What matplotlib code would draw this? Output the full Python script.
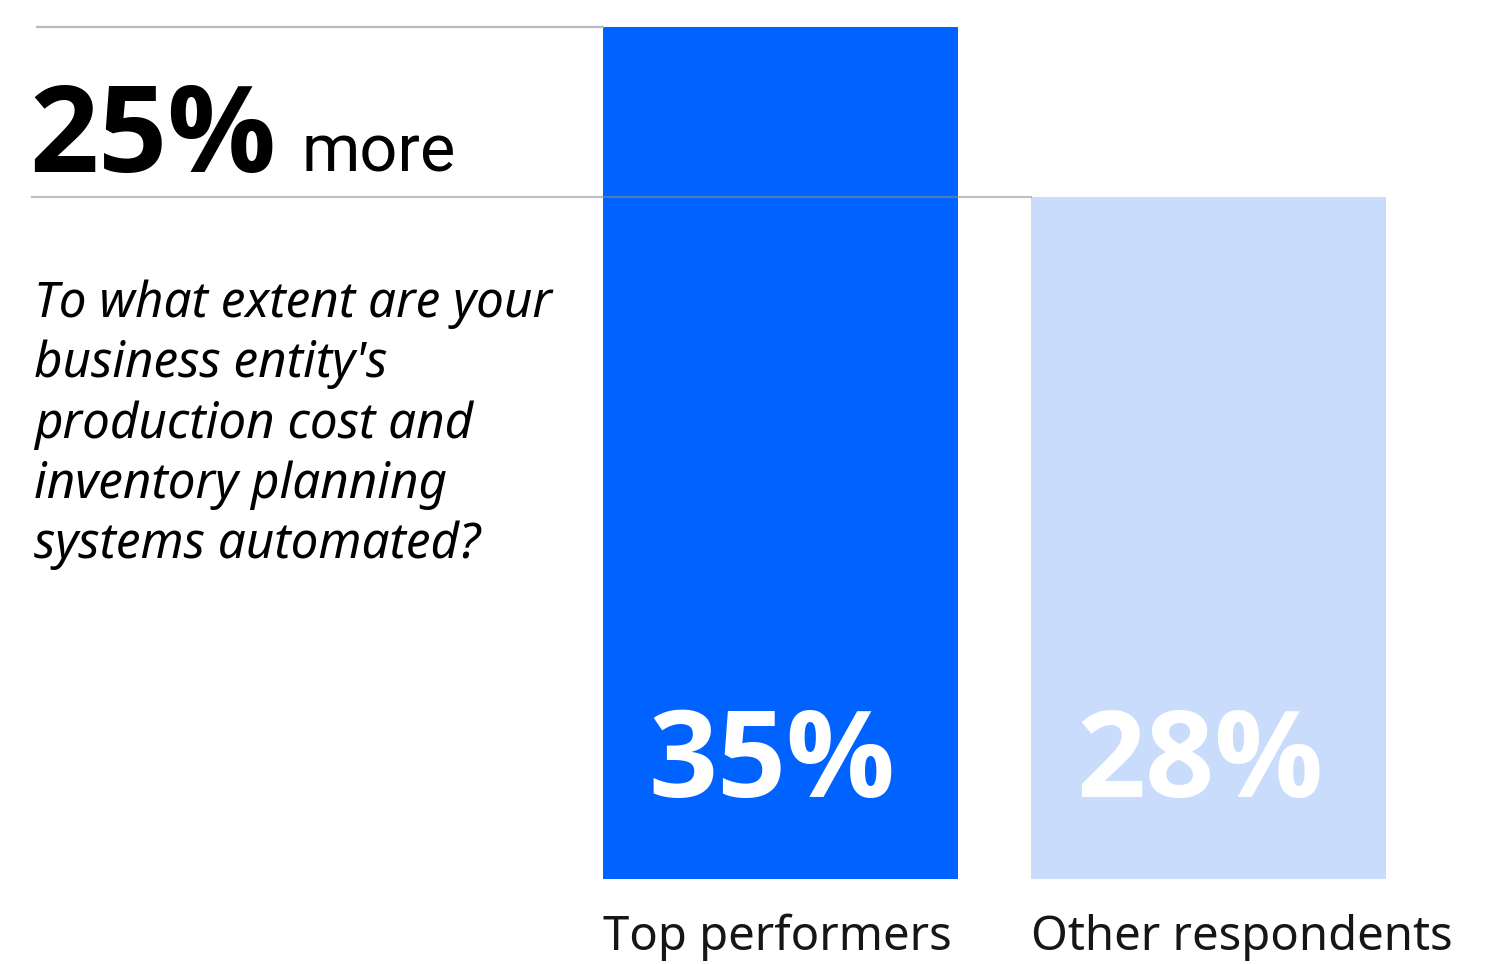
import numpy as np
import matplotlib
matplotlib.use('Agg')
import matplotlib.pyplot as plt

# data
groups = ['Top performers', 'Other respondents']
values = [35, 28]
bar_colors = ['#0062ff', '#c9dcfc']
headline_num = '25%'
headline_word = 'more'
question_lines = ['To what extent are your',
                  "business entity's",
                  'production cost and',
                  'inventory planning',
                  'systems automated?']

W, H = 1494, 964
FONT = 'Noto Sans'
FONT_BIG = 'Open Sans'

fig = plt.figure(figsize=(W / 100, H / 100), dpi=100)
fig.patch.set_facecolor('white')


def fx(x):
    return x / W


def fy(y):
    return 1 - y / H


# axes covers full width; bottom at 879 px, top (35) at 27 px
ax = fig.add_axes([0, fy(879), 1, (879 - 27) / H])
unit = 428.0  # px between bar centres
c0 = 780.5
ax.set_xlim(-c0 / unit, (W - c0) / unit)
ax.set_ylim(0, max(values))
ax.axis('off')

width = 355 / unit
xpos = np.arange(len(values))
ax.bar(xpos, values, width=width, color=bar_colors, zorder=1)

# rule lines
ax.plot([-1.737, xpos[0] - width / 2], [values[0], values[0]],
        color='#b8bcc0', lw=1.6, clip_on=False, zorder=3)
ax.plot([-1.749, xpos[1] - width / 2], [values[1], values[1]],
        color='#8d8d8d', lw=1.6, alpha=0.55, clip_on=False, zorder=3)

# value labels inside bars
for i, v in enumerate(values):
    ax.text(xpos[i] - 0.02, 3.37, f'{v}%', ha='center', va='baseline',
            color='white', fontsize=87, fontweight='bold', family=FONT_BIG, zorder=4)
    ax.text(xpos[i] - width / 2, -2.92, groups[i], ha='left', va='baseline',
            color='#161616', fontsize=34, family=FONT, clip_on=False)

# headline
fig.text(fx(29), fy(172), headline_num, ha='left', va='baseline',
         fontsize=87, fontweight='bold', family=FONT_BIG, color='black')
fig.text(fx(302), fy(172), headline_word, ha='left', va='baseline',
         fontsize=48, family='Roboto', color='black')

# question
for k, line in enumerate(question_lines):
    fig.text(fx(34), fy(317 + 60.3 * k), line, ha='left', va='baseline',
             fontsize=35.5, style='italic', family=FONT, color='black')

fig.savefig('out.png', dpi=100, facecolor='white')
